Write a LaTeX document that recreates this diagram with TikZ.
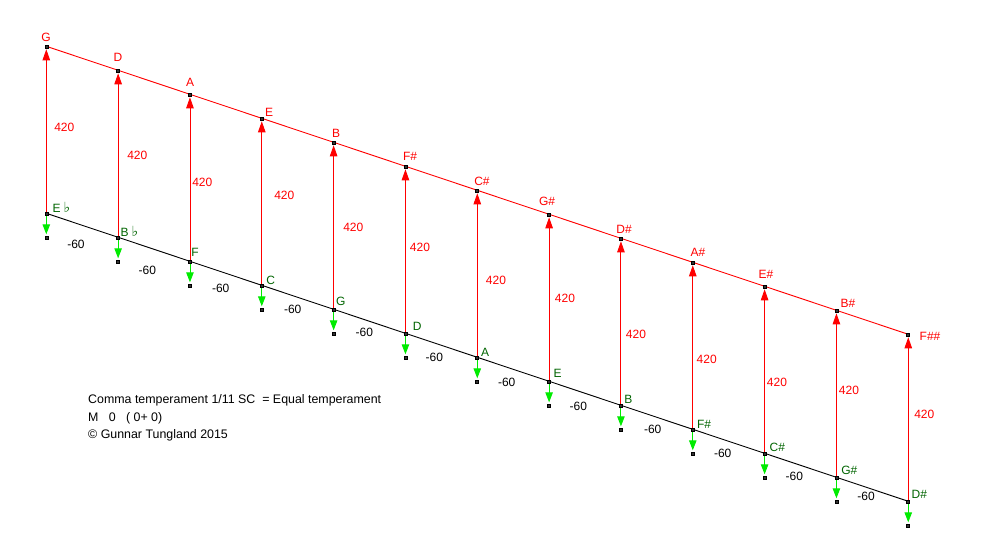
\documentclass[tikz,border=0pt]{standalone}
\usepackage{fontspec}
\setmainfont{Liberation Sans}
\newfontfamily\dejavu{DejaVu Sans}
\usetikzlibrary{arrows.meta}
\definecolor{pred}{RGB}{255,0,0}
\definecolor{pgreen}{RGB}{0,235,0}
\definecolor{dgreen}{RGB}{0,100,0}
\tikzset{
  redline/.style={draw=pred, line width=0.9pt},
  blackline/.style={draw=black, line width=0.9pt},
  redarrow/.style={draw=pred, line width=0.9pt, -{Triangle[length=11pt,width=7.5pt]}, shorten >=3pt},
  greenarrow/.style={draw=pgreen, line width=0.9pt, -{Triangle[length=10pt,width=7.5pt]}, shorten >=3pt},
  marker/.style={draw=black, fill=black!80, line width=0.6pt, minimum size=3pt, inner sep=0pt, outer sep=0pt},
  uplabel/.style={text=pred, font=\fontsize{12}{14}\selectfont, inner sep=0pt},
  lowlabel/.style={text=dgreen, font=\fontsize{12}{14}\selectfont, inner sep=0pt},
  diflabel/.style={text=black, font=\fontsize{12}{14}\selectfont, inner sep=0pt},
  fiflabel/.style={text=pred, font=\fontsize{12}{14}\selectfont, inner sep=0pt},
  infolabel/.style={text=black, font=\fontsize{12.4}{14}\selectfont, inner sep=0pt, anchor=west},
}
\begin{document}
\begin{tikzpicture}[x=1pt,y=-1pt]
\useasboundingbox (0,0) rectangle (1004,544);
% points
\foreach \i in {0,...,12}{
  \coordinate (U\i) at ({46.3+71.83*\i},{46.3+24*\i});
  \coordinate (L\i) at ({46.3+71.83*\i},{213.3+24*\i});
  \coordinate (M\i) at ({46.3+71.83*\i},{237.3+24*\i});
}
% main lines
\draw[redline] (U0) -- (U12);
\draw[blackline] (L0) -- (L12);
% arrows
\foreach \i in {0,...,12}{
  \draw[redarrow] (L\i) -- (U\i);
  \draw[greenarrow] (L\i) -- (M\i);
}
% markers
\foreach \i in {0,...,12}{
  \node[marker] (mu\i) at (U\i) {};
  \node[marker] (ml\i) at (L\i) {};
  \node[marker] (mm\i) at (M\i) {};
}
% upper labels
\foreach \t/\x/\y [count=\k] in {G/46/37, D/118/57.5, A/190/82, E/269/112, B/336/133, F\#/410/156, C\#/482/181.5, G\#/547/201, D\#/624/229, A\#/698/252, E\#/766/274.5, B\#/848/303, F\#\#/930/336}{
  \node[uplabel] (ul\k) at (\x,\y) {\t};
}
% lower labels
\node[lowlabel, anchor=west] (ll1) at (52.5,207.3) {E\hspace{3pt}{\dejavu\fontsize{14}{14}\selectfont ♭}};
\node[lowlabel, anchor=west] (ll2) at (120.5,231) {B\hspace{3pt}{\dejavu\fontsize{14}{14}\selectfont ♭}};
\foreach \t/\x/\y [count=\k from 3] in {F/195/252.7, C/270.7/280, G/340.7/301.7, D/417.3/326.7, A/485/352.3, E/557.7/373.3, B/628.3/399.3, F\#/704/424, C\#/777.3/447.7, G\#/849.3/470.7, D\#/919.3/494.3}{
  \node[lowlabel] (ll\k) at (\x,\y) {\t};
}
% -60 labels
\foreach \x/\y [count=\k] in {76/244.3, 147.3/270, 220.7/288.3, 292.7/309, 364.3/332.3, 434.3/357.3, 506.7/382.3, 578.3/406.7, 652.7/429.3, 722.7/453.3, 794.3/476.7, 866/496.7}{
  \node[diflabel] (d\k) at (\x,\y) {-60};
}
% 420 labels
\foreach \x/\y [count=\k] in {64.3/127.3, 137.3/155.7, 202.3/182.7, 284.3/195.7, 353.3/227.3, 420/247, 496/280, 565/298.5, 636/334, 706.7/359.3, 777/382, 849/390, 924.3/414.3}{
  \node[fiflabel] (f\k) at (\x,\y) {420};
}
% info text
\node[infolabel] (info1) at (88,400) {Comma temperament 1/11 SC\ \ = Equal temperament};
\node[infolabel] (info2) at (88,418.3) {M\ \ \ 0\ \ \ ( 0+ 0)};
\node[infolabel] (info3) at (88,435.5) {© Gunnar Tungland 2015};
\end{tikzpicture}
\end{document}
